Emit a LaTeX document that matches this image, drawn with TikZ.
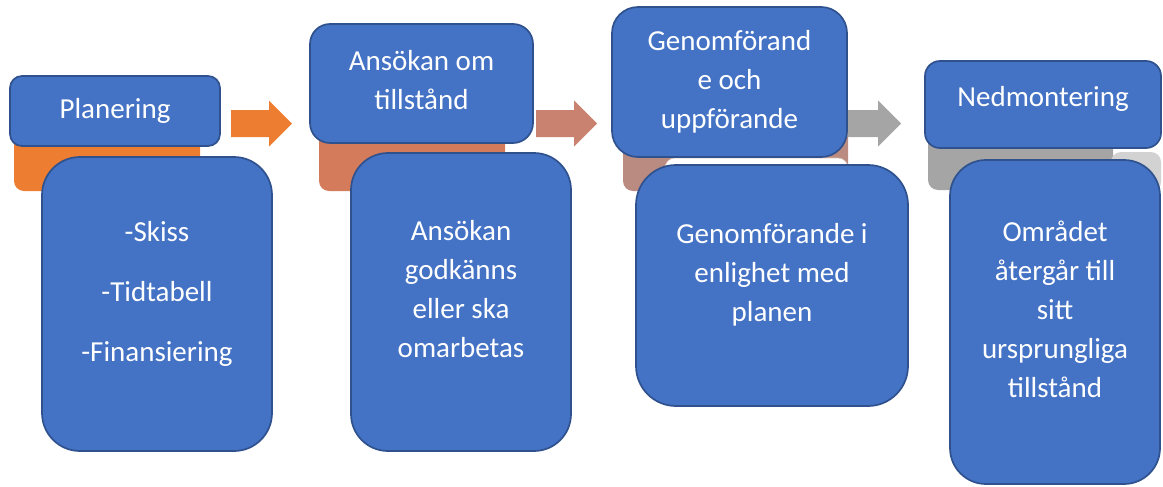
\documentclass[tikz,border=0pt]{standalone}
\usepackage{fontspec}
\setmainfont{Carlito}
\usetikzlibrary{positioning}
\newlength{\px}\setlength{\px}{0.75pt}
\definecolor{boxblue}{HTML}{4472C4}
\definecolor{boxline}{HTML}{2F528F}
\definecolor{stepone}{HTML}{ED7D31}
\definecolor{steptwo}{HTML}{D47B5B}
\definecolor{arrowtwo}{HTML}{C9826F}
\definecolor{stepthree}{HTML}{BA8B80}
\definecolor{stepfour}{HTML}{A5A5A5}
\definecolor{stepfourlight}{HTML}{D2D2D2}

\begin{document}
\begin{tikzpicture}[x=1\px, y=-1\px,
  title/.style={draw=boxline, fill=boxblue, line width=1.7\px, text=white,
                align=center, inner sep=0pt, font=\fontsize{21.75}{29.25}\selectfont},
  content/.style={title, text depth=26\px},
  tab/.style={inner sep=0pt, rounded corners=10\px},
  flow/.pic={\fill (0,-13.5) -- (38,-13.5) -- (38,-23) -- (61,0) -- (38,23) -- (38,13.5) -- (0,13.5) -- cycle;}
]
\useasboundingbox (0,0) rectangle (1163,486);

% colour tabs behind the steps
\node[tab, fill=stepone, minimum width=186\px, minimum height=91\px] (plantab) at (107,145.5) {};
\node[tab, fill=steptwo, minimum width=186\px, minimum height=91\px] (ansoktab) at (412,145.5) {};
\node[tab, fill=stepthree, minimum width=225\px, minimum height=81\px] (genomtab) at (735.5,150.5) {};
\node[tab, fill=white, draw=stepthree!50, minimum width=183\px, minimum height=47\px] (genomtabb) at (756.5,181.5) {};
\node[tab, fill=stepfour, minimum width=185\px, minimum height=70\px] (nedmtab) at (1020.5,155) {};
\node[tab, fill=stepfourlight, minimum width=50\px, minimum height=40\px] (nedmtabb) at (1136,172) {};

% arrows between the steps
\pic[fill=stepone] at (231,123.5) {flow};
\pic[fill=arrowtwo] at (536,123.5) {flow};
\pic[fill=stepfour] at (840,123.5) {flow};

% step titles
\node[title, minimum width=210\px, minimum height=70\px, rounded corners=12\px] (plan) at (115,111) {Planering};
\node[title, minimum width=223\px, minimum height=119\px, rounded corners=20\px, text depth=8\px] (ansok) at (421.5,83.5) {Ansökan om\\tillstånd};
\node[title, minimum width=235\px, minimum height=150\px, rounded corners=26\px] (genom) at (729.5,82) {Genomförand\\e och\\uppförande};
\node[title, minimum width=236\px, minimum height=87\px, rounded corners=15\px, text depth=16\px] (nedm) at (1043,104.5) {Nedmontering};

% step contents
\node[content, minimum width=230\px, minimum height=294\px, rounded corners=38\px] (planc) at (157,304)
  {-Skiss\\[21\px]-Tidtabell\\[21\px]-Finansiering};
\node[content, minimum width=220\px, minimum height=298\px, rounded corners=37\px] (ansokc) at (461,302)
  {Ansökan\\godkänns\\eller ska\\omarbetas};
\node[content, minimum width=272\px, minimum height=241\px, rounded corners=40\px] (genomc) at (772,285.5)
  {Genomförande i\\enlighet med\\planen};
\node[content, minimum width=210\px, minimum height=324\px, rounded corners=36\px] (nedmc) at (1055,322)
  {Området\\återgår till\\sitt\\ursprungliga\\tillstånd};

\end{tikzpicture}
\end{document}
